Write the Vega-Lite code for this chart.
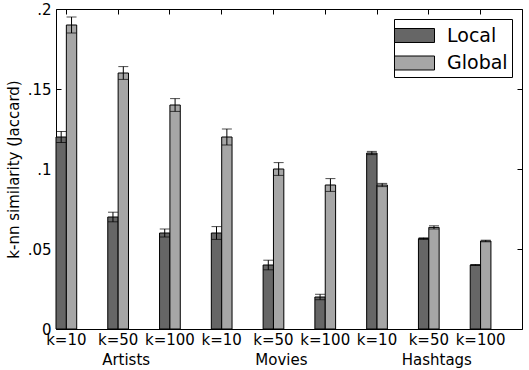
{
  "$schema": "https://vega.github.io/schema/vega-lite/v6.json",
  "width": 466,
  "height": 320,
  "autosize": {"type": "none"},
  "padding": {"left": 56, "top": 9, "right": 7, "bottom": 41},
  "background": "white",
  "config": {
    "view": {"stroke": "black", "strokeWidth": 1},
    "font": "DejaVu Sans",
    "axis": {
      "domain": false,
      "grid": false,
      "labelFont": "DejaVu Sans",
      "labelFontSize": 15,
      "labelColor": "black",
      "tickColor": "black",
      "tickSize": -5,
      "titleFont": "DejaVu Sans",
      "titleFontSize": 15,
      "titleFontWeight": "normal",
      "titleColor": "black"
    },
    "legend": {
      "labelFont": "DejaVu Sans",
      "labelFontSize": 19,
      "labelColor": "black",
      "strokeWidth": 1
    }
  },
  "datasets": {
    "bars": [
      {"g": "Artists|k=10", "series": "Local", "value": 0.12, "lo": 0.1165, "hi": 0.1235},
      {"g": "Artists|k=10", "series": "Global", "value": 0.19, "lo": 0.185, "hi": 0.195},
      {"g": "Artists|k=50", "series": "Local", "value": 0.07, "lo": 0.067, "hi": 0.073},
      {"g": "Artists|k=50", "series": "Global", "value": 0.16, "lo": 0.156, "hi": 0.164},
      {"g": "Artists|k=100", "series": "Local", "value": 0.06, "lo": 0.0575, "hi": 0.0625},
      {"g": "Artists|k=100", "series": "Global", "value": 0.14, "lo": 0.136, "hi": 0.144},
      {"g": "Movies|k=10", "series": "Local", "value": 0.06, "lo": 0.056, "hi": 0.064},
      {"g": "Movies|k=10", "series": "Global", "value": 0.12, "lo": 0.115, "hi": 0.125},
      {"g": "Movies|k=50", "series": "Local", "value": 0.04, "lo": 0.037, "hi": 0.043},
      {"g": "Movies|k=50", "series": "Global", "value": 0.10, "lo": 0.096, "hi": 0.104},
      {"g": "Movies|k=100", "series": "Local", "value": 0.02, "lo": 0.0183, "hi": 0.0217},
      {"g": "Movies|k=100", "series": "Global", "value": 0.09, "lo": 0.086, "hi": 0.094},
      {"g": "Hashtags|k=10", "series": "Local", "value": 0.11, "lo": 0.109, "hi": 0.111},
      {"g": "Hashtags|k=10", "series": "Global", "value": 0.09, "lo": 0.089, "hi": 0.091},
      {"g": "Hashtags|k=50", "series": "Local", "value": 0.0565, "lo": 0.056, "hi": 0.057},
      {"g": "Hashtags|k=50", "series": "Global", "value": 0.0635, "lo": 0.0625, "hi": 0.0645},
      {"g": "Hashtags|k=100", "series": "Local", "value": 0.040, "lo": 0.0397, "hi": 0.0403},
      {"g": "Hashtags|k=100", "series": "Global", "value": 0.055, "lo": 0.0545, "hi": 0.0555}
    ],
    "cats": [
      {"g": "Artists|k=50", "name": "Artists"},
      {"g": "Movies|k=50", "name": "Movies"},
      {"g": "Hashtags|k=50", "name": "Hashtags"}
    ]
  },
  "resolve": {"axis": {"x": "independent", "y": "independent"}},
  "layer": [
    {
      "data": {"name": "bars"},
      "mark": {"type": "bar", "stroke": "black", "strokeWidth": 1},
      "encoding": {
        "x": {
          "field": "g",
          "type": "nominal",
          "scale": {
            "domain": ["Artists|k=10", "Artists|k=50", "Artists|k=100", "Movies|k=10", "Movies|k=50", "Movies|k=100", "Hashtags|k=10", "Hashtags|k=50", "Hashtags|k=100"],
            "paddingInner": 0.6,
            "paddingOuter": 0.3,
            "align": 0
          },
          "axis": {
            "orient": "bottom",
            "title": null,
            "labelAngle": 0,
            "labelPadding": 8,
            "labelExpr": "split(datum.label, '|')[1]"
          }
        },
        "xOffset": {
          "field": "series",
          "type": "nominal",
          "scale": {"domain": ["Local", "Global"], "paddingInner": 0, "paddingOuter": 0}
        },
        "y": {
          "field": "value",
          "type": "quantitative",
          "scale": {"domain": [0, 0.2], "nice": false, "zero": true},
          "axis": {
            "orient": "left",
            "values": [0, 0.05, 0.1, 0.15, 0.2],
            "labelExpr": "datum.value == 0 ? '0' : replace(format(datum.value, '.2~f'), '0.', '.')",
            "labelPadding": 10,
            "title": "k-nn similarity (Jaccard)",
            "titlePadding": 6
          }
        },
        "fill": {
          "field": "series",
          "type": "nominal",
          "scale": {"domain": ["Local", "Global"], "range": ["#666666", "#a6a6a6"]},
          "legend": {
            "title": null,
            "orient": "top-right",
            "offset": 10,
            "strokeColor": "black",
            "fillColor": "white",
            "cornerRadius": 0,
            "padding": 4,
            "rowPadding": 4.5,
            "symbolType": "M-1.667,-0.583L1.667,-0.583L1.667,0.583L-1.667,0.583Z",
            "symbolSize": 576,
            "symbolOffset": 4,
            "symbolStrokeColor": "black",
            "symbolStrokeWidth": 1,
            "symbolOpacity": 1,
            "labelOffset": 20
          }
        }
      }
    },
    {
      "data": {"name": "bars"},
      "mark": {"type": "rule", "color": "black", "strokeWidth": 1},
      "encoding": {
        "x": {"field": "g", "type": "nominal", "axis": {"orient": "top", "labels": false, "title": null}},
        "xOffset": {"field": "series", "type": "nominal"},
        "y": {"field": "lo", "type": "quantitative", "axis": {"orient": "right", "labels": false, "title": null, "values": [0, 0.05, 0.1, 0.15, 0.2]}},
        "y2": {"field": "hi"}
      }
    },
    {
      "data": {"name": "bars"},
      "mark": {"type": "tick", "color": "black", "size": 10, "thickness": 1, "orient": "horizontal"},
      "encoding": {
        "x": {"field": "g", "type": "nominal", "axis": null},
        "xOffset": {"field": "series", "type": "nominal"},
        "y": {"field": "lo", "type": "quantitative", "axis": null}
      }
    },
    {
      "data": {"name": "bars"},
      "mark": {"type": "tick", "color": "black", "size": 10, "thickness": 1, "orient": "horizontal"},
      "encoding": {
        "x": {"field": "g", "type": "nominal", "axis": null},
        "xOffset": {"field": "series", "type": "nominal"},
        "y": {"field": "hi", "type": "quantitative", "axis": null}
      }
    },
    {
      "data": {"name": "cats"},
      "mark": {"type": "text", "fontSize": 15, "font": "DejaVu Sans", "color": "black", "baseline": "alphabetic", "dy": 35.5, "dx": 8},
      "encoding": {
        "x": {"field": "g", "type": "nominal", "axis": null},
        "y": {"datum": 0, "type": "quantitative", "axis": null},
        "text": {"field": "name"}
      }
    }
  ]
}
